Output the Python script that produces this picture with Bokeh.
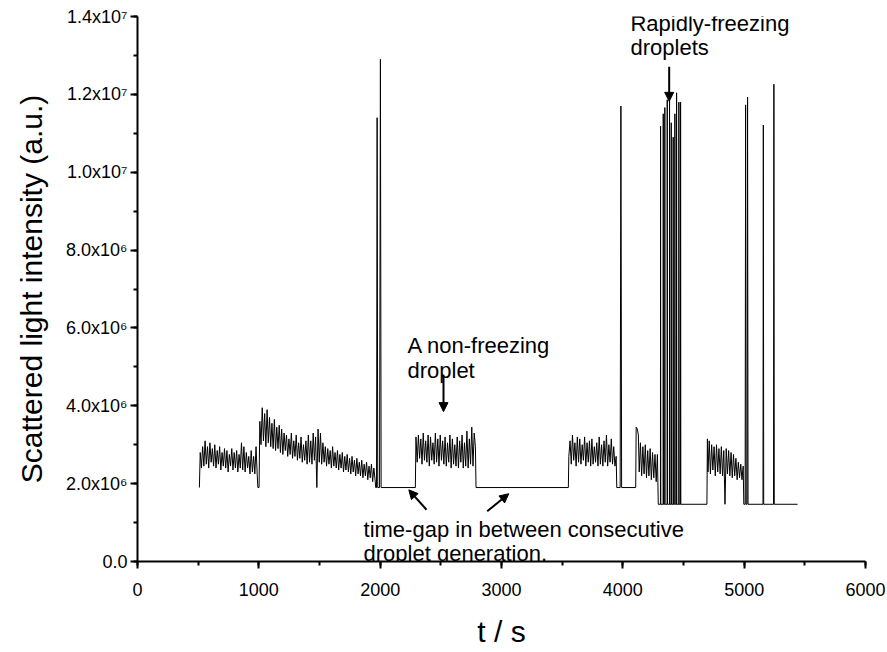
from bokeh.plotting import figure
from bokeh.models import (Range1d, SingleIntervalTicker, CustomJSTickFormatter,
                          Label, Arrow, NormalHead, ColumnDataSource)
from bokeh.embed import file_html
from bokeh.resources import INLINE

UNIT = 1e6          # values below are in units of 1e6 a.u.
BASE_HI = 1.90      # baseline level during the first gaps
BASE_LO = 1.47      # baseline level during the later gaps

# ---- regularly sampled stretches: start time (s), step (s), values ----
seg_a_start, seg_a_step = 517, 10
seg_a = [2.80, 2.40, 2.95, 2.45, 3.10, 2.50, 2.95, 2.40,
         3.05, 2.55, 2.90, 2.45, 3.00, 2.40, 2.85, 2.50,
         2.95, 2.35, 2.80, 2.45, 2.90, 2.40, 2.85, 2.30,
         2.75, 2.45, 2.90, 2.35, 2.80, 2.40, 2.85, 2.30,
         2.75, 2.40, 3.05, 2.35, 2.95, 2.30, 2.80, 2.40,
         2.70, 2.25, 2.85, 2.30, 2.70, 2.25, 2.95, 2.20]

seg_b_start, seg_b_step = 1008, 10
seg_b = [3.60, 3.00, 3.95, 3.10, 3.80, 2.95, 3.90, 3.05,
         3.70, 2.95, 3.55, 2.90, 3.65, 2.85, 3.45, 2.90,
         3.50, 2.80, 3.40, 2.75, 3.30, 2.85, 3.25, 2.70,
         3.15, 2.75, 3.30, 2.65, 3.10, 2.70, 3.25, 2.60,
         3.05, 2.65, 3.20, 2.55, 3.00, 2.60, 3.10, 2.50,
         3.25, 2.55, 3.10, 2.50, 3.30, 2.60, 3.20, 1.90,
         3.40, 2.55, 3.30, 2.50, 3.05, 2.55, 2.95, 2.45,
         2.90, 2.50, 2.85, 2.40, 2.95, 2.45, 2.80, 2.40,
         2.85, 2.35, 2.75, 2.40, 2.80, 2.30, 2.70, 2.35,
         2.75, 2.30, 2.65, 2.25, 2.70, 2.30, 2.60, 2.20,
         2.65, 2.25, 2.55, 2.20, 2.60, 2.15, 2.50, 2.20,
         2.55, 2.10, 2.45, 2.15, 2.50, 2.05, 2.40, 2.10]

seg_c_start, seg_c_step = 2295, 10
seg_c = [3.20, 2.55, 3.25, 2.65, 3.15, 2.50, 3.30, 2.60,
         3.10, 2.55, 3.25, 2.45, 3.20, 2.60, 3.05, 2.50,
         3.30, 2.55, 3.15, 2.45, 3.25, 2.60, 3.10, 2.50,
         3.20, 2.45, 3.05, 2.55, 3.25, 2.40, 3.15, 2.50,
         3.00, 2.45, 3.20, 2.40, 3.10, 2.55, 3.25, 2.40,
         3.05, 2.45, 3.35, 2.40, 3.15, 2.50, 3.45, 2.45,
         3.30, 2.95]

seg_d_start, seg_d_step = 3555, 10
seg_d = [2.70, 3.10, 2.50, 3.25, 2.60, 3.05, 2.45, 3.20,
         2.55, 3.15, 2.50, 3.00, 2.60, 3.20, 2.45, 3.05,
         2.55, 3.10, 2.45, 3.15, 2.50, 2.95, 2.55, 3.05,
         2.45, 3.20, 2.50, 3.00, 2.45, 3.10, 2.55, 3.25,
         2.45, 3.00, 2.55, 3.15, 2.50, 2.95, 2.45, 2.70]

seg_e_start, seg_e_step = 4135, 10
seg_e = [2.30, 3.05, 2.20, 2.95, 2.25, 3.00, 2.15, 2.85,
         2.20, 2.90, 2.10, 2.80, 2.15, 2.75, 2.05, 2.75]

seg_f_start, seg_f_step = 4702, 10
seg_f = [2.30, 3.10, 2.25, 3.00, 2.35, 2.95, 2.20, 3.00,
         2.30, 2.90, 2.25, 2.95, 2.20, 2.85, 1.47, 2.90,
         2.25, 2.85, 2.20, 2.80, 2.15, 2.75, 2.20, 2.65,
         2.10, 2.55, 2.15, 2.50, 2.10, 2.45]

# ---- irregular points (time s, value) ----
pre_t, pre_v = [510], [BASE_HI]
gap0_t, gap0_v = [992, 1002], [BASE_HI, BASE_HI]
gap1_t = [1963, 1970, 1975, 1980, 1995, 2002, 2008, 2290]
gap1_v = [BASE_HI, BASE_HI, 11.40, BASE_HI, BASE_HI, 12.90, BASE_HI, BASE_HI]
gap2_t, gap2_v = [2790, 3551], [BASE_HI, BASE_HI]
gap3_t = [3950, 3978, 3984, 3990, 4106, 4110, 4120, 4128]
gap3_v = [BASE_HI, BASE_HI, 11.70, BASE_HI, BASE_HI, 3.45, 3.40, 3.25]
gap4_t, gap4_v = [4292], [BASE_LO]
# rapidly-freezing droplets: spike times and peak values
spike_t = [4311, 4333, 4346, 4366, 4385, 4399, 4415, 4429, 4443, 4462, 4476]
spike_top = [11.18, 11.50, 11.66, 11.86, 12.00, 11.27, 10.90, 11.50, 12.04, 11.80, 11.80]
gap5_t, gap5_v = [4693, 4697], [BASE_LO, 3.15]
tail_t = [4997, 5008, 5012, 5016, 5024, 5028, 5032, 5155, 5158, 5161, 5242, 5245, 5248, 5440]
tail_v = [BASE_LO, BASE_LO, 11.73, BASE_LO, BASE_LO, 11.93, BASE_LO,
          BASE_LO, 11.21, BASE_LO, BASE_LO, 12.26, BASE_LO, BASE_LO]

# ---- assemble the trace ----
ts, vs = [], []

def add_points(t, v):
    ts.extend(t)
    vs.extend(v)

def add_seg(t0, dt, v):
    ts.extend(t0 + i * dt for i in range(len(v)))
    vs.extend(v)

add_points(pre_t, pre_v)
add_seg(seg_a_start, seg_a_step, seg_a)
add_points(gap0_t, gap0_v)
add_seg(seg_b_start, seg_b_step, seg_b)
add_points(gap1_t, gap1_v)
add_seg(seg_c_start, seg_c_step, seg_c)
add_points(gap2_t, gap2_v)
add_seg(seg_d_start, seg_d_step, seg_d)
add_points(gap3_t, gap3_v)
add_seg(seg_e_start, seg_e_step, seg_e)
add_points(gap4_t, gap4_v)
for st, top in zip(spike_t, spike_top):
    add_points([st - 1, st, st + 2], [BASE_LO, top, BASE_LO])
add_points(gap5_t, gap5_v)
add_seg(seg_f_start, seg_f_step, seg_f)
add_points(tail_t, tail_v)

source = ColumnDataSource(data=dict(t=ts, y=[v * UNIT for v in vs]))

FONT = "Liberation Sans"

p = figure(width=885, height=650, output_backend="svg", toolbar_location=None,
           x_range=Range1d(0, 6000), y_range=Range1d(0, 1.4e7),
           min_border_left=137, min_border_right=20, min_border_top=16,
           min_border_bottom=85)
p.grid.visible = False
p.outline_line_color = None
p.background_fill_color = "white"
p.border_fill_color = "white"

p.line("t", "y", source=source, line_color="black", line_width=1)

p.xaxis.ticker = SingleIntervalTicker(interval=1000, num_minor_ticks=2)
p.yaxis.ticker = SingleIntervalTicker(interval=2e6, num_minor_ticks=2)
p.yaxis.formatter = CustomJSTickFormatter(code="""
if (Math.abs(tick) < 1e-9) return "0.0";
const e = Math.floor(Math.log10(Math.abs(tick)) + 1e-9);
const m = tick / Math.pow(10, e);
const sup = {"0":"\u2070","1":"\u00b9","2":"\u00b2","3":"\u00b3","4":"\u2074",
             "5":"\u2075","6":"\u2076","7":"\u2077","8":"\u2078","9":"\u2079"};
return m.toFixed(1) + "x10" + String(e).split("").map(c => sup[c]).join("");
""")

for ax in (p.xaxis[0], p.yaxis[0]):
    ax.axis_line_width = 2
    ax.axis_line_color = "black"
    ax.major_tick_line_width = 2
    ax.minor_tick_line_width = 2
    ax.major_tick_line_color = "black"
    ax.minor_tick_line_color = "black"
    ax.major_tick_out = 7
    ax.major_tick_in = 0
    ax.minor_tick_out = 4
    ax.minor_tick_in = 0
    ax.major_label_text_font = FONT
    ax.major_label_text_font_size = "18px"
    ax.major_label_text_color = "black"
    ax.axis_label_text_font = FONT
    ax.axis_label_text_font_size = "30px"
    ax.axis_label_text_font_style = "normal"
    ax.axis_label_text_color = "black"

p.xaxis.axis_label = "t / s"
p.yaxis.axis_label = "Scattered light intensity (a.u.)"
p.xaxis.major_label_standoff = 14
p.xaxis.axis_label_standoff = 16
p.yaxis.major_label_standoff = 3
p.yaxis.axis_label_standoff = 15

# ---- annotations ----
ANN_SIZE = "22px"
labels = [
    ("A non-freezing", 2225, 5.56e6),
    ("droplet", 2225, 4.90e6),
    ("Rapidly-freezing", 4063, 13.83e6),
    ("droplets", 4063, 13.20e6),
    ("time-gap in between consecutive", 1863, 0.82e6),
    ("droplet generation.", 1863, 0.20e6),
]
for txt, lx, ly in labels:
    p.add_layout(Label(x=lx, y=ly, text=txt, text_font=FONT, text_font_size=ANN_SIZE,
                       text_color="black", text_align="left", text_baseline="alphabetic"))

arrows = [
    (2522, 4.80e6, 2522, 3.85e6),
    (4382, 12.71e6, 4382, 11.82e6),
    (2382, 1.33e6, 2236, 1.84e6),
    (2882, 1.29e6, 3060, 1.74e6),
]
for x0, y0, x1, y1 in arrows:
    p.add_layout(Arrow(x_start=x0, y_start=y0, x_end=x1, y_end=y1, line_width=2,
                       line_color="black",
                       end=NormalHead(size=9, fill_color="black", line_color="black",
                                      line_width=1)))

open("out.html", "w").write(file_html(p, INLINE))
